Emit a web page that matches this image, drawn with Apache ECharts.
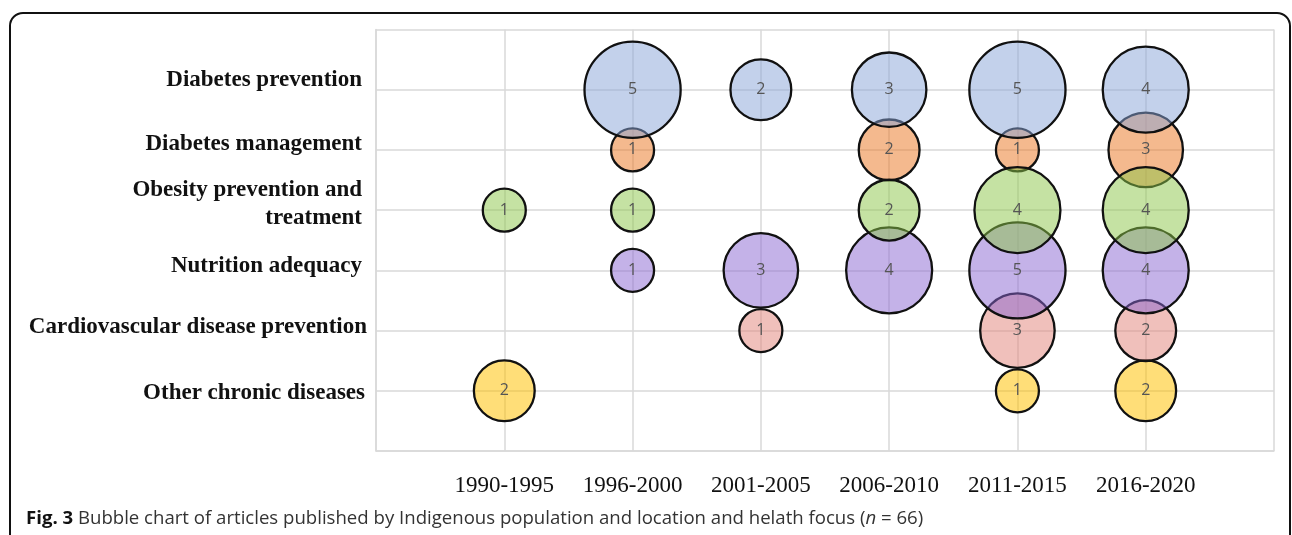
<!DOCTYPE html>
<html>
<head>
<meta charset="utf-8">
<script src="https://cdn.jsdelivr.net/npm/echarts@6/dist/echarts.min.js"></script>
<style>
  html, body { margin: 0; padding: 0; background: #fff; width: 1292px; height: 535px; overflow: hidden; }
  #frame { position: absolute; left: 9px; top: 12px; width: 1278px; height: 600px; border: 2px solid #111; border-radius: 14px; box-sizing: content-box; }
  #chart { position: absolute; left: 0; top: 0; width: 1292px; height: 535px; }
</style>
</head>
<body>
<div id="frame"></div>
<div id="chart"></div>
<script>
// ---- data ----
const periods = ['1990-1995', '1996-2000', '2001-2005', '2006-2010', '2011-2015', '2016-2020'];
const topics = ['Diabetes prevention', 'Diabetes management', 'Obesity prevention and\ntreatment', 'Nutrition adequacy', 'Cardiovascular disease prevention', 'Other chronic diseases'];
const diabetesPrevention = [0, 5, 2, 3, 5, 4];
const diabetesManagement = [0, 1, 0, 2, 1, 3];
const obesityPrevention  = [1, 1, 0, 2, 4, 4];
const nutritionAdequacy  = [0, 1, 3, 4, 5, 4];
const cardiovascular     = [0, 0, 1, 0, 3, 2];
const otherChronic       = [2, 0, 0, 0, 1, 2];
const caption = 'Bubble chart of articles published by Indigenous population and location and helath focus';

// ---- build ----
const seriesValues = [diabetesPrevention, diabetesManagement, obesityPrevention, nutritionAdequacy, cardiovascular, otherChronic];
const colors = ['rgba(135,163,215,0.5)', 'rgba(233,115,29,0.5)', 'rgba(139,197,71,0.5)', 'rgba(137,101,209,0.5)', 'rgba(225,129,119,0.5)', 'rgba(255,192,0,0.53)'];
// draw order (bottom first) to match overlaps
const drawOrder = [5, 4, 3, 1, 2, 0];
const nTopics = topics.length;

const series = drawOrder.map(function (ti) {
  const yVal = nTopics - ti;
  const data = [];
  seriesValues[ti].forEach(function (v, pi) {
    if (v > 0) data.push([pi + 1, yVal, v]);
  });
  return {
    type: 'scatter',
    name: topics[ti],
    data: data,
    symbolSize: function (val) { return 43 * Math.sqrt(val[2]); },
    itemStyle: { color: colors[ti], borderColor: '#111', borderWidth: 2.3, opacity: 1 },
    label: {
      show: true, position: 'inside',
      formatter: function (p) { return p.value[2]; },
      color: '#555', fontFamily: 'Open Sans', fontSize: 16
    },
    emphasis: { disabled: true },
    z: 2
  };
});

const yOffsets = [10, 6, 6, 4, 4, -2];
const yRightPad = [5, 5, 5, 5, 0, 2];
const rich = {};
topics.forEach(function (t, i) {
  const off = yOffsets[i];
  rich['t' + i] = {
    fontFamily: 'Liberation Serif', fontWeight: 'bold', fontSize: 23, color: '#111',
    lineHeight: 28, align: 'right',
    padding: [off < 0 ? -2 * off : 0, yRightPad[i], off > 0 ? 2 * off : 0, 0]
  };
});

const chart = echarts.init(document.getElementById('chart'), null, { renderer: 'canvas' });
chart.setOption({
  animation: false,
  backgroundColor: 'transparent',
  title: {
    text: '{b|Fig. 3} ' + caption + ' ({i|n} = 66)',
    left: 26, top: 509, padding: 0,
    textStyle: {
      fontFamily: 'Open Sans', fontSize: 18.6, fontWeight: 'normal', color: '#333',
      rich: {
        b: { fontFamily: 'Open Sans', fontSize: 18.6, fontWeight: 'bold', color: '#111' },
        i: { fontFamily: 'Open Sans', fontSize: 18.6, fontStyle: 'italic', color: '#333' }
      }
    }
  },
  grid: { left: 376, top: 29.5, right: 18, bottom: 84, containLabel: false },
  xAxis: {
    type: 'value', min: 0, max: 7, interval: 1,
    axisLine: { show: true, lineStyle: { color: '#d9d9d9', width: 1.5 } },
    axisTick: { show: false },
    splitLine: { show: true, lineStyle: { color: '#d9d9d9', width: 1.5 } },
    axisLabel: {
      margin: 23, fontFamily: 'Liberation Serif', fontSize: 23, color: '#111',
      formatter: function (v) { return (v >= 1 && v <= periods.length) ? periods[v - 1] : ''; }
    }
  },
  yAxis: {
    type: 'value', min: 0, max: 7, interval: 1,
    axisLine: { show: true, lineStyle: { color: '#d9d9d9', width: 1.5 } },
    axisTick: { show: false },
    splitLine: { show: true, lineStyle: { color: '#d9d9d9', width: 1.5 } },
    axisLabel: {
      margin: 9,
      formatter: function (v) {
        const idx = nTopics - v;
        if (idx < 0 || idx >= nTopics || v < 1) return '';
        return topics[idx].split('\n').map(function (s) { return '{t' + idx + '|' + s + '}'; }).join('\n');
      },
      rich: rich
    }
  },
  series: series
});
</script>
</body>
</html>
